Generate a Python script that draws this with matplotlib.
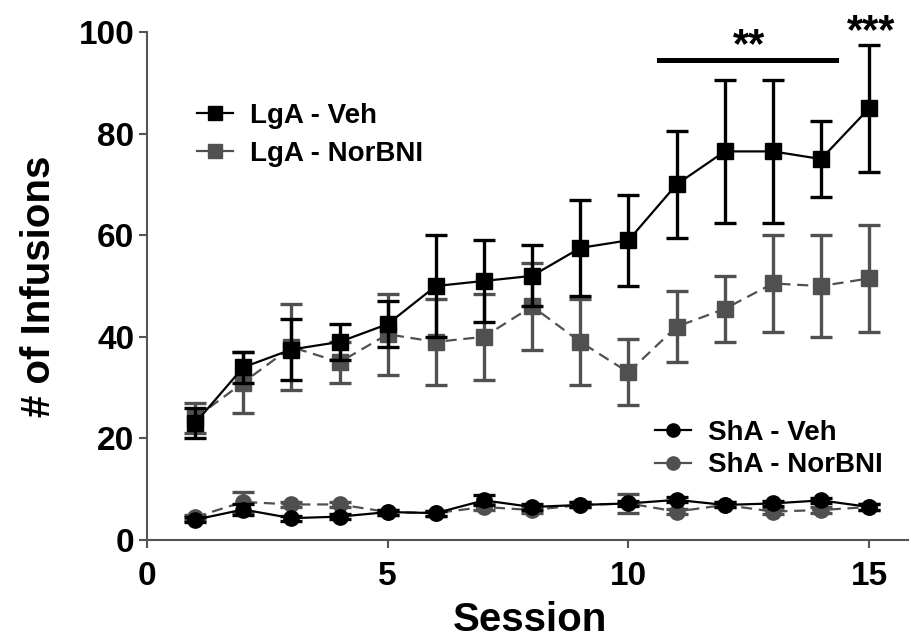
#!/usr/bin/env python3
"""
Infusions per session - LgA / ShA, Veh vs NorBNI
"""

import numpy as np
import matplotlib
matplotlib.use('Agg')
import matplotlib.pyplot as plt
from matplotlib.lines import Line2D

plt.rcParams['font.family'] = ['Liberation Sans', 'DejaVu Sans']
plt.rcParams['font.weight'] = 'bold'

# Data
sessions = np.arange(1, 16)

lga_veh = [23, 34, 37.5, 39, 42.5, 50, 51, 52, 57.5, 59, 70, 76.5, 76.5, 75, 85]
lga_veh_err = [3, 3, 6, 3.5, 4.5, 10, 8, 6, 9.5, 9, 10.5, 14, 14, 7.5, 12.5]

lga_nor = [24, 31, 38, 35, 40.5, 39, 40, 46, 39, 33, 42, 45.5, 50.5, 50, 51.5]
lga_nor_err = [3, 6, 8.5, 4, 8, 8.5, 8.5, 8.5, 8.5, 6.5, 7, 6.5, 9.5, 10, 10.5]

sha_veh = [4, 6, 4.3, 4.6, 5.5, 5.3, 7.8, 6.5, 6.9, 7.2, 7.9, 6.9, 7.2, 7.8, 6.5]
sha_veh_err = [0.5, 1, 0.5, 0.5, 0.5, 0.5, 1, 0.5, 0.5, 0.5, 0.5, 0.5, 0.5, 0.5, 0.5]

sha_nor = [4.5, 7.5, 7, 7, 5.5, 5.3, 6.5, 5.9, 6.9, 7.2, 5.6, 6.9, 5.6, 5.9, 6.5]
sha_nor_err = [0.5, 2, 0.5, 0.5, 0.5, 0.5, 0.5, 0.5, 0.5, 1.8, 0.5, 0.5, 0.5, 0.5, 0.5]

x_ticks = [0, 5, 10, 15]
y_ticks = [0, 20, 40, 60, 80, 100]

# significance annotations: (x start, x end, y) of the bar, star labels
sig_bar = (10.64, 14.32, 94.5)
sig_stars = [(12.5, 95.1, '**'), (15.05, 97.8, '***')]

BLACK = '#000000'
GRAY = '#505050'
AXIS = '#555555'
DASH = (0, (5, 3))

fig = plt.figure(figsize=(9.1, 6.38), dpi=100)
ax = fig.add_axes([0.1615, 0.1536, 0.836, 0.7962])

common = dict(linewidth=1.6, elinewidth=2.4, capsize=8, capthick=2.4)

ax.errorbar(sessions, lga_veh, yerr=lga_veh_err, color=BLACK, marker='s',
            markersize=12, linestyle='-', zorder=3, **common)
ax.errorbar(sessions, lga_nor, yerr=lga_nor_err, color=GRAY, marker='s',
            markersize=12, linestyle=DASH, zorder=2, **common)
ax.errorbar(sessions, sha_veh, yerr=sha_veh_err, color=BLACK, marker='o',
            markersize=11, linestyle='-', zorder=3, **common)
ax.errorbar(sessions, sha_nor, yerr=sha_nor_err, color=GRAY, marker='o',
            markersize=11, linestyle=DASH, zorder=2, **common)

ax.set_xlim(0, 15.8)
ax.set_ylim(0, 100)
ax.set_xticks(x_ticks)
ax.set_yticks(y_ticks)
ax.tick_params(axis='both', labelsize=24, width=1.5, length=6, color=AXIS)
ax.tick_params(axis='x', pad=9)
ax.tick_params(axis='y', pad=3)
for lab in ax.get_xticklabels() + ax.get_yticklabels():
    lab.set_fontweight('bold')

ax.spines['top'].set_visible(False)
ax.spines['right'].set_visible(False)
for s in ['left', 'bottom']:
    ax.spines[s].set_color(AXIS)
    ax.spines[s].set_linewidth(1.5)

ax.set_xlabel('Session', fontsize=29, fontweight='bold')
ax.set_ylabel('# of Infusions', fontsize=29, fontweight='bold')
ax.xaxis.set_label_coords(0.503, -0.121)
ax.yaxis.set_label_coords(-0.117, 0.5)

# significance markers
x0, x1, ybar = sig_bar
ax.plot([x0, x1], [ybar, ybar], color=BLACK, linewidth=3.6, clip_on=False)
for sx, sy, s in sig_stars:
    ax.text(sx, sy, s, ha='center', va='baseline', fontsize=30,
            fontweight='bold', clip_on=False)

# legends
lga_handles = [
    Line2D([], [], color=BLACK, marker='s', markersize=9.5, linewidth=1.6),
    Line2D([], [], color=GRAY, marker='s', markersize=9.5, linewidth=1.6),
]
sha_handles = [
    Line2D([], [], color=BLACK, marker='o', markersize=9.5, linewidth=1.6),
    Line2D([], [], color=GRAY, marker='o', markersize=9.5, linewidth=1.6),
]

leg1 = ax.legend(lga_handles, ['LgA - Veh', 'LgA - NorBNI'], loc='upper left',
                 bbox_to_anchor=(0.2165, 0.8386), bbox_transform=fig.transFigure,
                 frameon=False, fontsize=20, handlelength=1.3, handletextpad=0.62,
                 labelspacing=0.44, borderpad=0, borderaxespad=0)
for t in leg1.get_texts():
    t.set_fontweight('bold')
ax.add_artist(leg1)

leg2 = ax.legend(sha_handles, ['ShA - Veh', 'ShA - NorBNI'], loc='upper left',
                 bbox_to_anchor=(0.7198, 0.3417), bbox_transform=fig.transFigure,
                 frameon=False, fontsize=20, handlelength=1.3, handletextpad=0.62,
                 labelspacing=0.23, borderpad=0, borderaxespad=0)
for t in leg2.get_texts():
    t.set_fontweight('bold')

fig.savefig('out.png', dpi=100)
